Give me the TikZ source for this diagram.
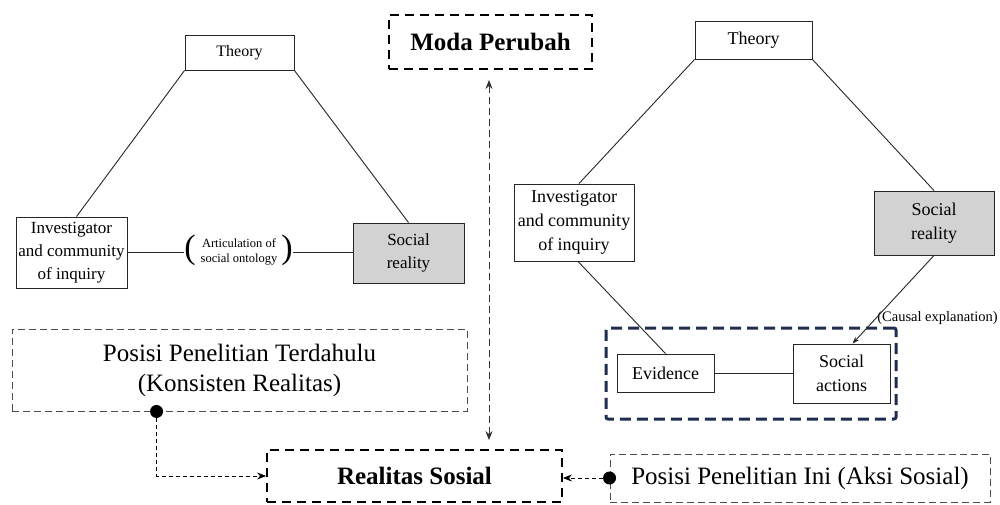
\documentclass[tikz,border=0pt]{standalone}
\usepackage{fontspec}
\setmainfont{Liberation Serif}
\usetikzlibrary{arrows.meta,calc}
\definecolor{navy}{RGB}{31,45,80}
\definecolor{sgray}{RGB}{210,210,210}
\tikzset{
  box/.style={draw=black!85, line width=0.9pt, inner sep=0pt, align=center, fill=white},
  lbox/.style={box, font=\fontsize{17}{23}\selectfont},
  rbox/.style={box, font=\fontsize{18}{24}\selectfont},
  conn/.style={draw=black!85, line width=0.9pt},
  bigdash/.style={draw=black, line width=1.8pt, dash pattern=on 9pt off 6pt, inner sep=0pt, align=center, font=\fontsize{25}{30}\selectfont\bfseries},
  thindash/.style={draw=black!70, line width=0.9pt, dash pattern=on 7pt off 4pt, inner sep=0pt, align=center, font=\fontsize{25}{30}\selectfont},
  navybox/.style={draw=navy, line width=3pt, dash pattern=on 11pt off 6pt, rounded corners=2pt, inner sep=0pt},
  tip/.style={-{Stealth[length=9pt,width=7pt]}},
  dconn/.style={draw=black, line width=0.9pt, dash pattern=on 4pt off 3pt},
  vconn/.style={draw=black!80, line width=1pt, dash pattern=on 7pt off 4pt},
  dot/.style={circle, fill=black, inner sep=0pt, minimum size=13pt}
}
\begin{document}
\begin{tikzpicture}[x=1pt,y=-1pt]
\useasboundingbox (0,0) rectangle (1000,504);
% left diagram
\node[lbox, font=\fontsize{16}{20}\selectfont, minimum width=109pt, minimum height=35pt] (ltheory) at (239.5,52.5) {Theory};
\node[lbox, minimum width=111pt, minimum height=71pt] (linv) at (71.5,252.5) {Investigator\\and community\\of inquiry};
\node[lbox, fill=sgray, minimum width=111pt, minimum height=60pt] (lsoc) at (408.5,253) {Social\\reality};
\node[inner sep=0pt, font=\fontsize{34}{34}\selectfont] (lparl) at (190,250) {(};
\node[inner sep=0pt, font=\fontsize{34}{34}\selectfont] (lparr) at (287,250) {)};
\node[inner sep=0pt, align=center, font=\fontsize{12.5}{15}\selectfont] (lart) at (239,252) {Articulation of\\social ontology};
\draw[conn] (ltheory.south west) -- ([xshift=5pt]linv.north);
\draw[conn] (ltheory.south east) -- (lsoc.north);
\draw[conn] (linv.east) -- (linv.east -| lparl.west);
\draw[conn] (lsoc.west |- linv.east) -- (linv.east -| lparr.east);
% middle
\node[bigdash, minimum width=203pt, minimum height=54pt] (moda) at (490.5,42) {Moda Perubah};
\node[bigdash, minimum width=295pt, minimum height=52pt] (real) at (414.5,476) {Realitas Sosial};
\draw[vconn, {Stealth[length=9pt,width=7pt]}-{Stealth[length=9pt,width=7pt]}, shorten <=10pt, shorten >=9pt] ([xshift=-1.5pt]moda.south) -- ([xshift=-1.5pt]moda.south |- real.north);
\node[thindash, minimum width=455pt, minimum height=82pt] (pold) at (239.5,370) {Posisi Penelitian Terdahulu\\(Konsisten Realitas)};
\node[dot] (dotold) at ($(pold.south west)+(145,0)$) {};
\draw[dconn, tip] (dotold) -- (dotold |- real.west) -- (real.west);
\node[thindash, minimum width=380pt, minimum height=48pt] (pnew) at (800,478) {Posisi Penelitian Ini (Aksi Sosial)};
\node[dot] (dotnew) at (pnew.west) {};
\draw[dconn, tip] (dotnew) -- (dotnew -| real.east);
% right diagram
\node[rbox, minimum width=117pt, minimum height=38pt] (rtheory) at (753.5,40) {Theory};
\node[rbox, minimum width=120pt, minimum height=77pt] (rinv) at (574,222.5) {Investigator\\and community\\of inquiry};
\node[rbox, fill=sgray, minimum width=120pt, minimum height=64pt] (rsoc) at (934,223) {Social\\reality};
\node[navybox, minimum width=290pt, minimum height=91pt] (focus) at (751,373.5) {};
\node[rbox, minimum width=97pt, minimum height=38pt] (evid) at (665.5,373) {Evidence};
\node[rbox, minimum width=97pt, minimum height=59pt] (sact) at (841.5,373.5) {Social\\actions};
\node[inner sep=0pt, font=\fontsize{14.5}{17}\selectfont] (causal) at (937.5,318) {(Causal explanation)};
\draw[conn] (rtheory.south west) -- ([xshift=5pt]rinv.north);
\draw[conn] (rtheory.south east) -- (rsoc.north);
\draw[conn] ([xshift=4pt]rinv.south) -- (evid.north);
\draw[conn, -{Stealth[length=7pt,width=5pt]}] (rsoc.south) -- ([xshift=11pt]sact.north);
\draw[conn] (evid.east) -- (evid.east -| sact.west);
\end{tikzpicture}
\end{document}
